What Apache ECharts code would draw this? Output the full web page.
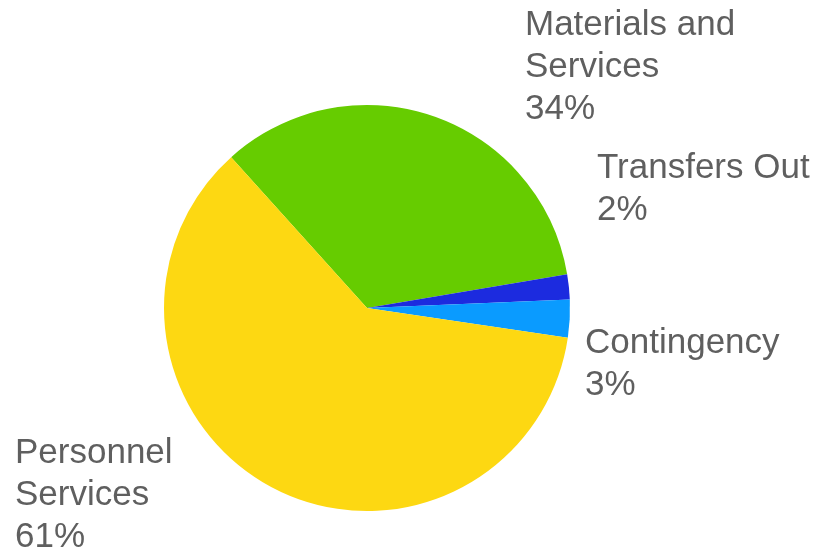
<!DOCTYPE html>
<html>
<head>
<meta charset="utf-8">
<script src="https://cdn.jsdelivr.net/npm/echarts@6/dist/echarts.min.js"></script>
<style>
  html, body { margin: 0; padding: 0; background: #fff; }
  #chart { width: 823px; height: 554px; }
</style>
</head>
<body>
<div id="chart"></div>
<script>
// 数据
var categories = ['Materials and\nServices', 'Transfers Out', 'Contingency', 'Personnel\nServices'];
var values = [34, 2, 3, 61];
var colors = ['#66cc00', '#1c2bdf', '#0a9bff', '#fdd812'];

// 标签位置 (左对齐, 垂直居中)
var labelSpots = [
    {x: 525, y: 67},
    {x: 597, y: 189},
    {x: 585, y: 364},
    {x: 15, y: 495}
];

var myChart = echarts.init(document.getElementById('chart'));

var option = {
    backgroundColor: '#ffffff',
    animation: false,
    series: [{
        type: 'pie',
        center: [367, 308],
        radius: [0, 203],
        startAngle: 132,
        clockwise: true,
        avoidLabelOverlap: false,
        label: {
            show: true,
            position: 'outside',
            formatter: '{b}\n{d}%',
            fontFamily: 'Liberation Sans, Arial, sans-serif',
            fontSize: 35,
            lineHeight: 42,
            color: '#5f5f5f'
        },
        labelLine: {
            show: false
        },
        labelLayout: function (params) {
            var spot = labelSpots[params.dataIndex];
            return {
                x: spot.x,
                y: spot.y,
                align: 'left',
                verticalAlign: 'middle'
            };
        },
        itemStyle: {
            borderWidth: 0
        },
        emphasis: { disabled: true },
        data: categories.map(function (name, i) {
            return {
                name: name,
                value: values[i],
                itemStyle: { color: colors[i] }
            };
        })
    }]
};

myChart.setOption(option);
</script>
</body>
</html>
